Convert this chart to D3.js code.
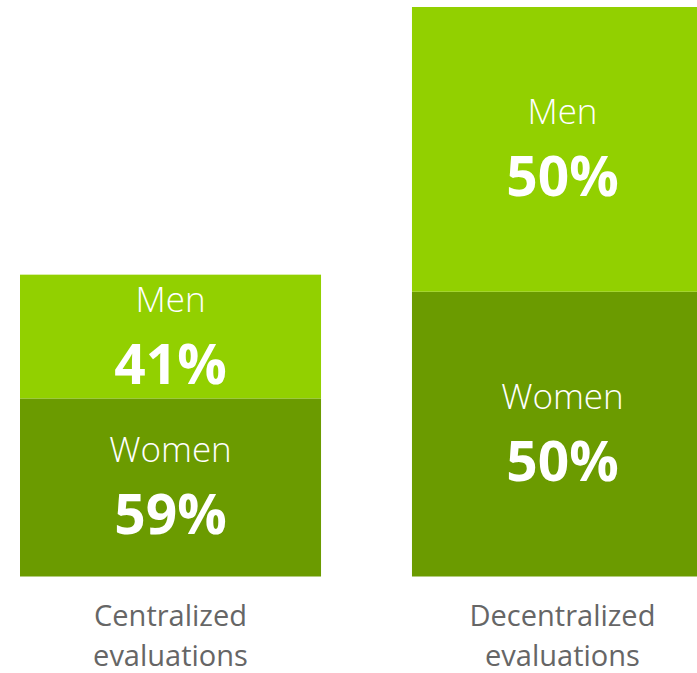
<!DOCTYPE html>
<html>
<head>
<meta charset="utf-8">
<script src="https://cdn.jsdelivr.net/npm/d3@7"></script>
<style>
  html, body { margin: 0; padding: 0; background: #fff; }
  svg { display: block; font-family: "Open Sans", "Noto Sans", sans-serif; }
</style>
</head>
<body>
<svg id="chart" width="697" height="673"></svg>
<script>
// ---- data ----
const categories = ["Centralized evaluations", "Decentralized evaluations"];
const categoryLines = [["Centralized", "evaluations"], ["Decentralized", "evaluations"]];
const relativeTotals = [53, 100];           // relative bar sizes (decentralized = 100)
const series = ["Women", "Men"];            // stacked bottom → top
const womenPct = [59, 50];
const menPct = [41, 50];

const colors = { Women: "#6b9b00", Men: "#92d000" };

// ---- build stacked table ----
const rows = categories.map((c, i) => ({
  category: c,
  Women: relativeTotals[i] * womenPct[i] / 100,
  Men: relativeTotals[i] * menPct[i] / 100,
  pct: { Women: womenPct[i], Men: menPct[i] }
}));
const stacked = d3.stack().keys(series)(rows);

const svg = d3.select("#chart");

const x = d3.scaleBand()
  .domain(categories)
  .range([20, 713])
  .paddingInner(0.232)
  .paddingOuter(0);

const y = d3.scaleLinear()
  .domain([0, 100])
  .range([576.5, 7]);

const layers = svg.selectAll("g.layer")
  .data(stacked)
  .join("g")
  .attr("class", "layer")
  .attr("fill", d => colors[d.key]);

layers.selectAll("rect")
  .data(d => d.map(s => ({ key: d.key, s })))
  .join("rect")
  .attr("x", d => x(d.s.data.category))
  .attr("width", x.bandwidth())
  .attr("y", d => y(d.s[1]))
  .attr("height", d => y(d.s[0]) - y(d.s[1]));

// ---- labels inside segments ----
const labelG = svg.append("g").attr("fill", "#fff").attr("text-anchor", "middle");
stacked.forEach(layer => {
  layer.forEach(s => {
    const cx = x(s.data.category) + x.bandwidth() / 2;
    const mid = (y(s[0]) + y(s[1])) / 2;
    labelG.append("text")
      .attr("x", cx)
      .attr("y", mid + 47 - 72)
      .attr("font-size", 35)
      .attr("font-weight", 350)
      .text(layer.key);
    labelG.append("text")
      .attr("x", cx)
      .attr("y", mid + 47)
      .attr("font-size", 55)
      .attr("font-weight", 700)
      .text(s.data.pct[layer.key] + "%");
  });
});

// ---- category labels ----
const catG = svg.append("g").attr("fill", "#666").attr("text-anchor", "middle")
  .attr("font-size", 29);
categories.forEach((c, i) => {
  const t = catG.append("text").attr("x", x(c) + x.bandwidth() / 2).attr("y", 626);
  categoryLines[i].forEach((line, j) => {
    t.append("tspan").attr("x", x(c) + x.bandwidth() / 2).attr("dy", j === 0 ? 0 : 40).text(line);
  });
});
</script>
</body>
</html>
